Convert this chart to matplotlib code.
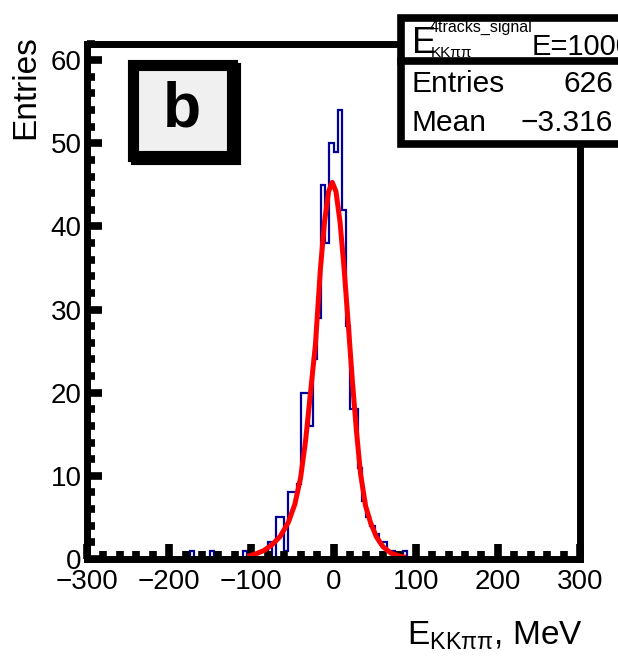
import numpy as np
import matplotlib.pyplot as plt
from matplotlib.patches import Rectangle
from matplotlib.lines import Line2D
from matplotlib.ticker import MultipleLocator

plt.rcParams['font.family'] = ['Liberation Sans', 'DejaVu Sans']
plt.rcParams['mathtext.fontset'] = 'custom'
plt.rcParams['mathtext.rm'] = 'Liberation Sans'

# histogram: lower edge of each non-empty 5 MeV bin and its count
bin_low = [-175, -150, -110,
           -80, -70, -65, -60, -55, -50, -45,
           -40, -35, -30, -25, -20, -15, -10, -5, 0, 5, 10,
           15, 20, 25, 30, 35, 40, 45, 50, 55, 60, 65, 70, 85]
bin_count = [1, 1, 1,
             2, 5, 5, 1, 8, 8, 9,
             20, 20, 16, 24, 29, 45, 38, 50, 49, 54, 42,
             28, 18, 18, 11, 7, 5, 4, 3, 2, 2, 1, 1, 1]

# fit curve
fit_x = [-105, -95, -85, -75, -65, -55, -47, -40, -34, -28, -22, -16, -11, -6, -1.5,
         3, 8, 13, 18, 23, 28, 33, 39, 45, 52, 60, 70, 80, 88]
fit_y = [0.3, 0.6, 1.0, 1.7, 2.7, 4.4, 6.6, 9.8, 14.2, 20.0, 25.8, 34.8, 40.5, 44.2, 45.3,
         44.2, 40.5, 34.8, 28.2, 21.4, 15.3, 10.2, 6.4, 4.4, 2.7, 1.5, 0.7, 0.35, 0.2]

W, H = 618, 658
def fx(px):
    return px / W
def fy(py):
    return 1 - py / H

edges = np.arange(-300, 305, 5)
counts = np.zeros(len(edges) - 1)
for lo, c in zip(bin_low, bin_count):
    counts[int((lo + 300) // 5)] = c

fig = plt.figure(figsize=(W / 100, H / 100), dpi=100)
ax = fig.add_axes([fx(87), fy(559), (580 - 87) / W, (559 - 43.5) / H])

ax.stairs(counts, edges, color='#000099', lw=1.6, baseline=0)
ax.plot(fit_x, fit_y, color='#ff0000', lw=3.6, solid_capstyle='butt')

ax.set_xlim(-300, 300)
ax.set_ylim(0, 62)
ax.xaxis.set_major_locator(MultipleLocator(100))
ax.xaxis.set_minor_locator(MultipleLocator(20))
ax.yaxis.set_major_locator(MultipleLocator(10))
ax.yaxis.set_minor_locator(MultipleLocator(2))
for s in ax.spines.values():
    s.set_linewidth(5)
ax.tick_params(which='both', direction='in', top=False, right=False, labelsize=20, width=5.5)
ax.tick_params(which='major', length=11)
ax.tick_params(which='minor', length=6)
ax.tick_params(axis='y', pad=4)
ax.tick_params(axis='x', pad=7)

fig.text(fx(26), fy(35), 'Entries', rotation=90, ha='center', va='top', fontsize=24)
fig.text(fx(583), fy(644), r'E$_{\rm KKππ}$, MeV', ha='right', va='baseline', fontsize=24)

# "b" label box
fig.add_artist(Rectangle((fx(136), fy(159)), (232 - 133) / W, (156 - 65) / H,
                         transform=fig.transFigure, fc='black', ec='black', lw=8, zorder=4))
fig.add_artist(Rectangle((fx(133), fy(156)), (232 - 133) / W, (156 - 65) / H,
                         transform=fig.transFigure, fc='#f0f0f0', ec='black', lw=8, zorder=5))
fig.text(fx(182), fy(110), 'b', ha='center', va='center', fontsize=45, fontweight='bold', zorder=6)

# stats box
fig.add_artist(Rectangle((fx(401), fy(144)), (680 - 401) / W, (144 - 17.5) / H,
                         transform=fig.transFigure, fc='white', ec='black', lw=5.5, zorder=5))
fig.add_artist(Line2D([fx(401), fx(680)], [fy(61), fy(61)], transform=fig.transFigure,
                      color='black', lw=5.5, zorder=6))
fig.text(fx(412), fy(53), 'E', fontsize=26, va='baseline', zorder=7)
fig.text(fx(430), fy(32), '4tracks_signal', fontsize=11.5, va='baseline', zorder=7)
fig.text(fx(431), fy(57), 'KKππ', fontsize=11, va='baseline', zorder=7)
fig.text(fx(532), fy(55), 'E=1000', fontsize=21, va='baseline', zorder=7)
fig.text(fx(412), fy(92), 'Entries', fontsize=21.5, va='baseline', zorder=7)
fig.text(fx(613), fy(92), '626', fontsize=21.5, va='baseline', ha='right', zorder=7)
fig.text(fx(412), fy(131), 'Mean', fontsize=21.5, va='baseline', zorder=7)
fig.text(fx(613), fy(131), '\u22123.316', fontsize=21.5, va='baseline', ha='right', zorder=7)

fig.savefig('out.png', dpi=100)
